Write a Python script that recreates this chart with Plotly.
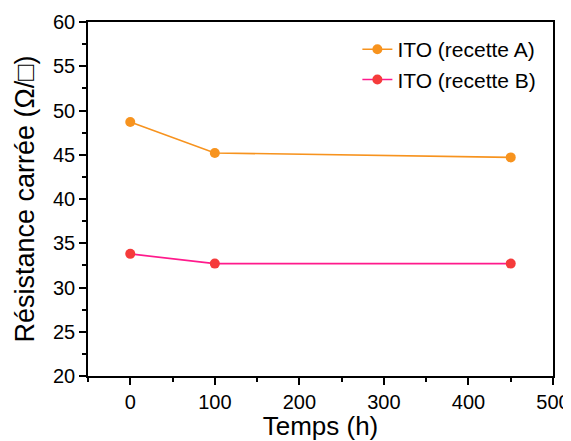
import plotly.graph_objects as go

temps = [0, 100, 450]
recette_a = [48.7, 45.2, 44.7]
recette_b = [33.8, 32.7, 32.7]

font_family = "Liberation Sans, Arial, sans-serif"

fig = go.Figure()
fig.add_trace(go.Scatter(
    x=temps, y=recette_a, mode="lines+markers", name="ITO (recette A)",
    line=dict(color="#F7931E", width=1.6),
    marker=dict(color="#F7931E", size=10),
))
fig.add_trace(go.Scatter(
    x=temps, y=recette_b, mode="lines+markers", name="ITO (recette B)",
    line=dict(color="#FF1A8C", width=1.6),
    marker=dict(color="#F53B3B", size=10),
))

axis_common = dict(
    showline=True, linecolor="black", linewidth=1.6, mirror=True,
    ticks="outside", ticklen=7, tickwidth=1.5, tickcolor="black",
    showgrid=False, zeroline=False, automargin=False,
    tickfont=dict(family=font_family, size=20, color="black"),
)

fig.update_xaxes(
    range=[-50, 500], dtick=100, tick0=0,
    minor=dict(ticks="outside", ticklen=4, tickwidth=1.5, tickcolor="black", dtick=50, tick0=0, showgrid=False),
    title=dict(text="Temps (h)", font=dict(family=font_family, size=26, color="black"), standoff=6),
    **axis_common,
)
fig.update_yaxes(
    range=[20, 60], dtick=5, tick0=20,
    minor=dict(ticks="outside", ticklen=4, tickwidth=1.5, tickcolor="black", dtick=2.5, tick0=20, showgrid=False),
    title=dict(text="Résistance carrée (Ω/□)", font=dict(family=font_family, size=27, color="black"), standoff=11),
    **axis_common,
)

fig.update_layout(
    width=563, height=433,
    margin=dict(l=80, r=18, t=14, b=65),
    plot_bgcolor="white", paper_bgcolor="white",
    legend=dict(
        x=0.975, y=0.98, xanchor="right", yanchor="top",
        bgcolor="rgba(0,0,0,0)", borderwidth=0,
        font=dict(family=font_family, size=21, color="black"),
        tracegroupgap=0,
    ),
    showlegend=True,
)

fig.write_html("out.html")
